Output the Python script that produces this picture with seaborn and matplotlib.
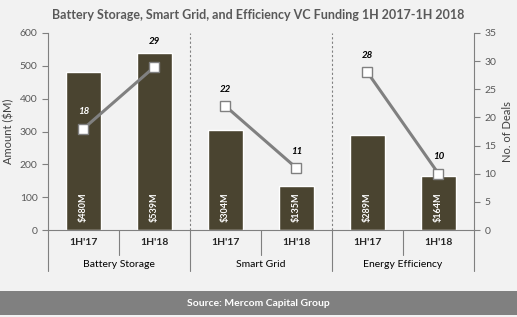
import pandas as pd
import seaborn as sns
import matplotlib.pyplot as plt
from matplotlib.patches import Rectangle
from matplotlib.lines import Line2D

groups = ["Battery Storage", "Battery Storage", "Smart Grid", "Smart Grid",
          "Energy Efficiency", "Energy Efficiency"]
periods = ["1H'17", "1H'18", "1H'17", "1H'18", "1H'17", "1H'18"]
amount = [480, 539, 304, 135, 289, 164]
deals = [18, 29, 22, 11, 28, 10]
group_names = ["Battery Storage", "Smart Grid", "Energy Efficiency"]

df = pd.DataFrame({"pos": range(6), "group": groups, "period": periods,
                   "amount": amount, "deals": deals})

sns.set_style("white")
plt.rcParams["font.family"] = ["Lato", "DejaVu Sans"]

bg = "#f2f2f2"
bar_col = "#4a4430"
line_col = "#808080"
txt = "#595959"

fig = plt.figure(figsize=(5.17, 3.17), dpi=100, facecolor=bg)
ax = fig.add_axes([48 / 517, 87 / 317, 426 / 517, 197 / 317])
ax.set_facecolor(bg)

sns.barplot(data=df, x="pos", y="amount", color=bar_col, width=0.5,
            saturation=1, ax=ax)
ax.set_xlim(-0.5, 5.5)
ax.set_ylim(0, 600)
ax.set_yticks(range(0, 601, 100))
ax.set_xticks([])
ax.set_xlabel("")
ax.set_ylabel("Amount ($M)", fontsize=8, color="#404040")
ax.tick_params(axis="y", labelsize=7.5, labelcolor=txt, color=line_col,
               length=4, direction="out", left=True)
for s in ["top", "right"]:
    ax.spines[s].set_visible(False)
ax.spines["left"].set_color(line_col)
ax.spines["bottom"].set_color(line_col)

# bar value labels
for i, v in enumerate(amount):
    ax.annotate(f"${v}M", xy=(i, 0), xytext=(0, 6), textcoords="offset points",
                ha="center", va="bottom", rotation=90, fontsize=6.5,
                fontweight="bold", color="white")

# dashed group separators
for xs in [1.5, 3.5]:
    ax.axvline(xs, color=line_col, ls=(0, (2, 2)), lw=0.8)

ax2 = ax.twinx()
sns.lineplot(data=df, x="pos", y="deals", hue="group",
             palette=[line_col] * 3, lw=2.2, marker="s", markersize=7,
             markerfacecolor="white", markeredgecolor=line_col,
             markeredgewidth=1, legend=False, ax=ax2)
ax2.set_ylim(0, 35)
ax2.set_yticks(range(0, 36, 5))
ax2.set_xlim(-0.5, 5.5)
ax2.set_xlabel("")
ax2.set_ylabel("No. of Deals", fontsize=8, color="#404040")
ax2.tick_params(axis="y", labelsize=7.5, labelcolor=txt, color=line_col,
                length=4, direction="out", right=True)
for s in ["top", "left", "bottom"]:
    ax2.spines[s].set_visible(False)
ax2.spines["right"].set_color(line_col)

lab_off = [9, 15, 9, 9, 9, 9]
lab_col = ["white", "black", "black", "black", "black", "black"]
for i, d in enumerate(deals):
    ax2.annotate(str(d), xy=(i, d), xytext=(0, lab_off[i]), textcoords="offset points",
                 ha="center", va="bottom", fontsize=7, fontweight="bold",
                 fontstyle="italic", color=lab_col[i])

# category axis below the plot
trans = ax.get_xaxis_transform()
for i, p in enumerate(periods):
    ax.text(i, -0.065, p, transform=trans, ha="center", va="center",
            fontsize=7.5, fontweight="bold", color="#262626")
for g, name in enumerate(group_names):
    ax.text(2 * g + 0.5, -0.177, name, transform=trans, ha="center",
            va="center", fontsize=7.5, color="black")
for xs in [0.5, 2.5, 4.5]:
    ax.add_line(Line2D([xs, xs], [0, -0.125], transform=trans, color=line_col,
                       lw=0.8, clip_on=False))
for xs in [-0.5, 1.5, 3.5, 5.5]:
    ax.add_line(Line2D([xs, xs], [0, -0.21], transform=trans, color=line_col,
                       lw=0.8, clip_on=False))

fig.text(0.5, 1 - 15 / 317, "Battery Storage, Smart Grid, and Efficiency VC Funding 1H 2017-1H 2018",
         ha="center", va="center", fontsize=9, fontweight="bold", color=txt)

fig.patches.append(Rectangle((0, 2 / 317), 1, 24 / 317, transform=fig.transFigure,
                             facecolor="#808080", edgecolor="none"))
fig.text(0.5, 14 / 317, "Source: Mercom Capital Group", ha="center", va="center",
         fontsize=7.5, fontweight="bold", color="white")

fig.savefig("out.png", dpi=100, facecolor=bg)
